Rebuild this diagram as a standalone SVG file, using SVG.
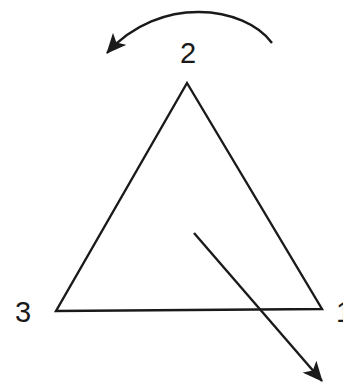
<svg xmlns="http://www.w3.org/2000/svg" width="343" height="384" viewBox="0 0 343 384">
<style>
.ln{fill:none;stroke:#1a1a1a;stroke-width:2.4;stroke-linejoin:miter}
.lbl{font-family:"Liberation Sans",Arial,sans-serif;font-size:29px;fill:#1a1a1a}
</style>
<defs>
<marker id="ah2" viewBox="0 0 20 18" refX="19" refY="9" markerWidth="20" markerHeight="18" markerUnits="userSpaceOnUse" orient="auto">
<path d="M0,0 L20,9 L0,18 L5,9 Z" fill="#1a1a1a"/>
</marker>
</defs>
<rect width="343" height="384" fill="#fff"/>
<g id="triangle">
<polygon class="ln" points="187,83 56,311 322,309"/>
</g>
<g id="labels">
<text class="lbl" x="188" y="63" text-anchor="middle">2</text>
<text class="lbl" x="23" y="322" text-anchor="middle">3</text>
<text class="lbl" x="336" y="322">1</text>
</g>
<g id="connectors">
<path class="ln" d="M272,43 C245,6 160,-6 107,53" marker-end="url(#ah2)"/>
<line class="ln" x1="194" y1="233" x2="322" y2="381" marker-end="url(#ah2)"/>
</g>
</svg>
